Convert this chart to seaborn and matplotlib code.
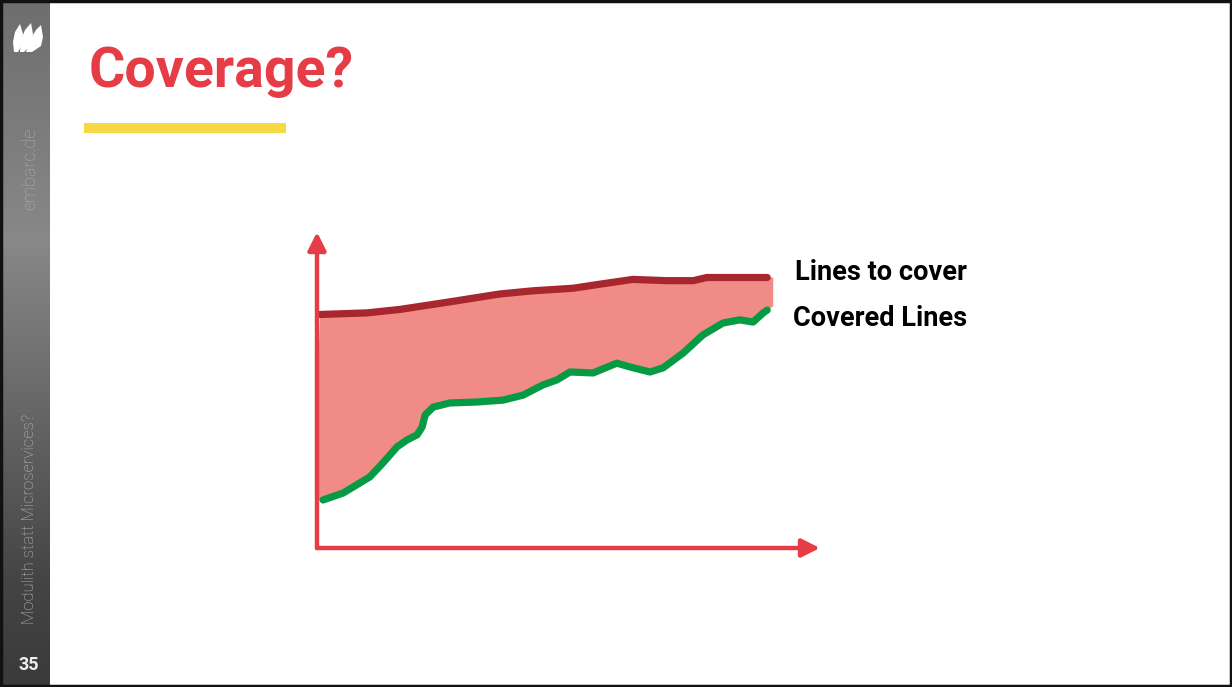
import matplotlib

matplotlib.use("Agg")

import matplotlib.pyplot as plt
import numpy as np
import pandas as pd
import seaborn as sns
from matplotlib.colors import LinearSegmentedColormap
from matplotlib.patches import Polygon, Rectangle

# hand-drawn curves, x = time, y = number of lines (0..100 scale)
cover_x = [0.6, 9.9, 16.5, 26.4, 36.4, 43.0, 50.9, 56.3, 62.8, 69.5, 74.8, 77.5, 89.5]
cover_y = [73.9, 74.4, 75.5, 77.9, 80.4, 81.4, 82.2, 83.5, 85.0, 84.6, 84.6, 85.6, 85.6]

covered_x = [1.2, 5.2, 10.5, 13.1, 15.9, 17.9, 19.9, 20.9, 21.5, 23.1, 26.4, 31.8, 37.0,
             41.0, 44.9, 47.7, 50.3, 54.9, 59.6, 62.2, 66.2, 68.8, 72.8, 76.7, 80.7,
             84.1, 86.7, 88.7, 89.5]
covered_y = [15.2, 17.4, 22.5, 26.9, 32.0, 34.2, 35.8, 38.3, 42.1, 44.6, 45.9, 46.2, 46.8,
             48.4, 51.6, 53.2, 55.7, 55.4, 58.5, 57.3, 55.7, 57.0, 61.7, 67.4, 71.2,
             72.2, 71.5, 74.4, 75.3]

series_labels = ["Lines to cover", "Covered Lines"]
title = "Coverage?"
sidebar_site = "embarc.de"
sidebar_topic = "Modulith statt Microservices?"
page_number = "35"

RED = "#e63c46"
DARK_RED = "#a8262e"
GREEN = "#079a44"
PINK = "#f18b86"
YELLOW = "#f5da45"

sns.set_theme(style="white")
font = ["Roboto", "DejaVu Sans"]

W, H = 1232, 687
fig = plt.figure(figsize=(W / 100, H / 100), dpi=100, facecolor="white")

# slide decoration layer in pixel coordinates
deco = fig.add_axes((0, 0, 1, 1))
deco.set_xlim(0, W)
deco.set_ylim(H, 0)
deco.axis("off")

side_cmap = LinearSegmentedColormap.from_list(
    "side", [(0, "#6e6e6e"), (0.35, "#888888"), (0.85, "#444444"), (1, "#3a3a3a")]
)
grad = np.linspace(0, 1, 256).reshape(-1, 1)
deco.imshow(grad, cmap=side_cmap, extent=(0, 50, H, 0), aspect="auto", zorder=1)

# logo (white sails)
for pts in (
    [(14, 52), (13, 42), (15, 32), (20, 24), (23, 34), (22, 45), (18, 52)],
    [(20, 52), (21, 40), (25, 30), (31, 23), (33, 34), (31, 45), (24, 52)],
    [(26, 52), (30, 40), (36, 30), (41, 25), (43, 37), (41, 46), (32, 52)],
):
    deco.add_patch(Polygon(pts, closed=True, facecolor="white", edgecolor="none", zorder=2))

deco.text(30, 169, sidebar_site, rotation=90, ha="center", va="center",
          color="#adadad", fontsize=13, fontweight="light", family=font, zorder=3)
deco.text(30, 519, sidebar_topic, rotation=90, ha="center", va="center",
          color="#bdbdbd", fontsize=12, fontweight="light", family=font, zorder=3)
deco.text(29, 665, page_number, ha="center", va="center", color="#eeeeee",
          fontsize=13, fontweight="bold", family=font, zorder=3)

deco.text(89, 72, title, ha="left", va="center", color=RED, fontsize=40,
          fontweight="bold", family=font)
deco.add_patch(Rectangle((84, 123), 202, 10, facecolor=YELLOW, edgecolor="none"))
deco.add_patch(Rectangle((1, 1), W - 2, H - 2, facecolor="none",
                         edgecolor="#111111", linewidth=2.5, zorder=5))

# the chart itself, axes placed so 0..100 spans the drawn axes
ax = fig.add_axes((317 / W, 1 - 548 / H, (820 - 317) / W, (548 - 232) / H))
ax.set_xlim(0, 100)
ax.set_ylim(0, 100)
ax.axis("off")
ax.patch.set_alpha(0)

fill_pts = list(zip(cover_x, cover_y)) + [(90.7, 85.6), (90.7, 76.5)] + list(
    zip(covered_x[::-1], covered_y[::-1])
) + [(-0.5, 15.2)]
ax.add_patch(Polygon(fill_pts, closed=True, facecolor=PINK, edgecolor="none", zorder=1))

df = pd.concat([
    pd.DataFrame({"x": cover_x, "y": cover_y, "series": series_labels[0]}),
    pd.DataFrame({"x": covered_x, "y": covered_y, "series": series_labels[1]}),
])
sns.lineplot(data=df, x="x", y="y", hue="series",
             palette={series_labels[0]: DARK_RED, series_labels[1]: GREEN},
             linewidth=5.2, legend=False, estimator=None, sort=False,
             solid_capstyle="round", solid_joinstyle="round", ax=ax, zorder=3)

arrow = dict(arrowstyle="-|>,head_length=0.9,head_width=0.45", color=RED,
             linewidth=3.2, shrinkA=0, shrinkB=0)
ax.annotate("", xy=(0, 100), xytext=(0, 0), arrowprops=arrow, annotation_clip=False, zorder=4)
ax.annotate("", xy=(100, 0), xytext=(0, 0), arrowprops=arrow, annotation_clip=False, zorder=4)

ax.text(95.1, 87.3, series_labels[0], ha="left", va="center", fontsize=19.5,
        fontweight="bold", family=font, color="black")
ax.text(94.7, 72.5, series_labels[1], ha="left", va="center", fontsize=19.5,
        fontweight="bold", family=font, color="black")

fig.savefig("out.png", dpi=100)
